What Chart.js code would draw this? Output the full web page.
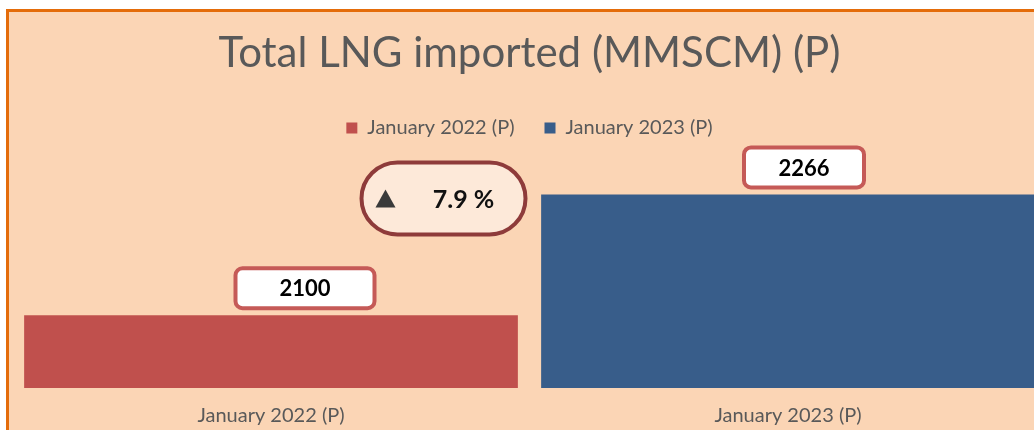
<!DOCTYPE html>
<html>
<head>
<meta charset="utf-8">
<title>Total LNG imported</title>
<script src="https://cdn.jsdelivr.net/npm/chart.js@4.4.1/dist/chart.umd.min.js"></script>
<style>
  body { margin: 0; background: #ffffff; overflow: hidden; width: 1034px; height: 430px; position: relative; }
  #frame { position: absolute; left: 6px; top: 9px; width: 1100px; height: 500px; box-sizing: border-box;
           border: 3px solid #E46C0A; background: #FBD5B5; }
  #lngChart { position: absolute; left: 0; top: 0; }
</style>
</head>
<body>
<div id="frame"></div>
<canvas id="lngChart" width="1060" height="448"></canvas>
<script>
const categories = ['January 2022 (P)', 'January 2023 (P)'];
const seriesNames = ['January 2022 (P)', 'January 2023 (P)'];
const lngValues = [2100, 2266];
const barColors = ['#C0504D', '#385D8A'];
const barBorders = ['#C0504D', '#2C4D75'];

// label box placement (px), kept apart from the data
const labelShift = [34, 16];
const labelBoxWidth = [139, 120];

const font = 'Lato, "Open Sans", sans-serif';

const valueBoxes = {
  id: 'valueBoxes',
  afterDatasetsDraw(chart) {
    const ctx = chart.ctx;
    const y = chart.scales.y;
    const bars = chart.getDatasetMeta(0).data;
    ctx.save();
    bars.forEach((bar, i) => {
      const cx = bar.x + labelShift[i];
      const cy = bar.y - 27;
      const w = labelBoxWidth[i], h = 40;
      ctx.beginPath();
      ctx.roundRect(cx - w / 2, cy - h / 2, w, h, 7);
      ctx.fillStyle = '#ffffff';
      ctx.fill();
      ctx.lineWidth = 4;
      ctx.strokeStyle = '#C55A57';
      ctx.stroke();
      ctx.fillStyle = '#000000';
      ctx.font = 'bold 22px ' + font;
      ctx.textAlign = 'center';
      ctx.textBaseline = 'middle';
      ctx.fillText(String(lngValues[i]), cx, cy + 1);
    });

    // growth pill between the bars
    const change = (lngValues[1] - lngValues[0]) / lngValues[0] * 100;
    const px = (bars[0].x + bars[1].x) / 2 - 86;
    const py = y.getPixelForValue(lngValues[1]) + 4;
    const pw = 164, ph = 72;
    ctx.beginPath();
    ctx.roundRect(px - pw / 2, py - ph / 2, pw, ph, ph / 2);
    ctx.fillStyle = '#FDE9D9';
    ctx.fill();
    ctx.lineWidth = 4;
    ctx.strokeStyle = '#8E3B3A';
    ctx.stroke();
    // up triangle
    const tx = px - 58, ty = py;
    ctx.beginPath();
    ctx.moveTo(tx - 10, ty + 9);
    ctx.lineTo(tx + 10, ty + 9);
    ctx.lineTo(tx, ty - 9);
    ctx.closePath();
    ctx.fillStyle = '#3A3A3A';
    ctx.fill();
    ctx.fillStyle = '#111111';
    ctx.font = 'bold 25px ' + font;
    ctx.textAlign = 'center';
    ctx.textBaseline = 'middle';
    ctx.fillText(change.toFixed(1) + ' %', px + 20, py + 1);
    ctx.restore();
  }
};

const ctx = document.getElementById('lngChart').getContext('2d');
const lngChart = new Chart(ctx, {
  type: 'bar',
  data: {
    labels: categories,
    datasets: [{
      data: lngValues,
      backgroundColor: barColors,
      borderColor: barBorders,
      borderWidth: { top: 0, left: 0, right: 0, bottom: 1.5 },
      categoryPercentage: 1,
      barPercentage: 0.955
    }]
  },
  options: {
    responsive: false,
    animation: false,
    layout: { padding: { left: 12.5, right: 13.5, top: 0, bottom: 4 } },
    plugins: {
      title: {
        display: true,
        text: 'Total LNG imported (MMSCM) (P)',
        color: '#595959',
        font: { family: font, size: 42, weight: 'normal' },
        padding: { top: 28, bottom: 9.5 }
      },
      legend: {
        display: true,
        position: 'top',
        labels: {
          color: '#595959',
          font: { family: font, size: 20 },
          boxWidth: 11,
          boxHeight: 11,
          padding: 30,
          generateLabels: () => seriesNames.map((name, i) => ({
            text: name,
            fillStyle: barColors[i],
            strokeStyle: barColors[i],
            lineWidth: 0,
            fontColor: '#595959'
          }))
        }
      },
      tooltip: { enabled: false }
    },
    scales: {
      x: {
        grid: { display: false, drawTicks: false },
        border: { display: false },
        ticks: { color: '#595959', font: { family: font, size: 20 }, padding: 16 }
      },
      y: {
        display: false,
        min: 2000,
        max: 2330
      }
    }
  },
  plugins: [valueBoxes]
});
</script>
</body>
</html>
